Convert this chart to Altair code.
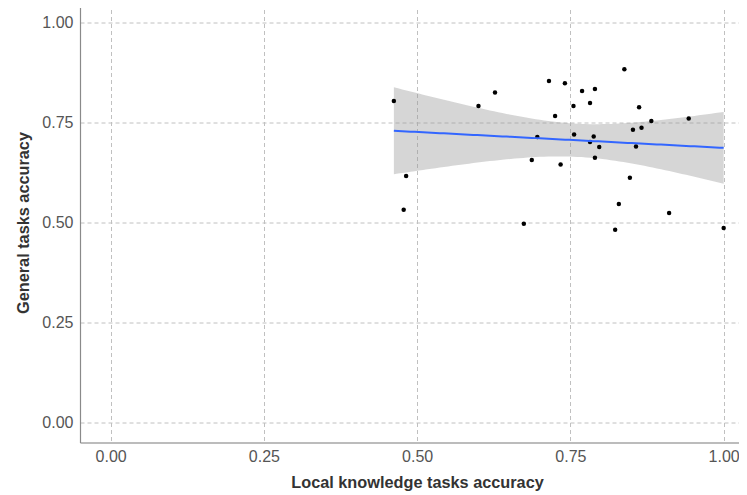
import altair as alt
import numpy as np
import pandas as pd

local_acc = [0.462, 0.482, 0.478, 0.600, 0.627, 0.715, 0.741, 0.725, 0.696, 0.687,
             0.734, 0.674, 0.755, 0.756, 0.769, 0.790, 0.782, 0.782, 0.788, 0.790,
             0.797, 0.838, 0.862, 0.882, 0.852, 0.866, 0.857, 0.847, 0.829, 0.823,
             0.911, 0.943, 1.000]
general_acc = [0.804, 0.616, 0.532, 0.791, 0.825, 0.854, 0.848, 0.766, 0.714, 0.656,
               0.645, 0.497, 0.791, 0.720, 0.829, 0.834, 0.799, 0.701, 0.715, 0.662,
               0.689, 0.883, 0.788, 0.754, 0.732, 0.737, 0.690, 0.612, 0.546, 0.482,
               0.524, 0.760, 0.486]
tick_vals = [0.0, 0.25, 0.5, 0.75, 1.0]

df = pd.DataFrame({"x": local_acc, "y": general_acc})

# linear model with 95% confidence band (as geom_smooth(method="lm"))
x = np.array(local_acc)
y = np.array(general_acc)
n = len(x)
b1, b0 = np.polyfit(x, y, 1)
resid = y - (b0 + b1 * x)
s = np.sqrt(np.sum(resid ** 2) / (n - 2))
t_crit = 2.0395  # t(0.975, df=31)
xs = np.linspace(x.min(), x.max(), 80)
fit = b0 + b1 * xs
se = s * np.sqrt(1.0 / n + (xs - x.mean()) ** 2 / np.sum((x - x.mean()) ** 2))
band = pd.DataFrame({"x": xs, "fit": fit, "lo": fit - t_crit * se, "hi": fit + t_crit * se})

FONT = "Liberation Sans"
xscale = alt.Scale(domain=[-0.05, 1.025], nice=False, zero=False)
yscale = alt.Scale(domain=[-0.05, 1.05], nice=False, zero=False)

xaxis = alt.Axis(title="Local knowledge tasks accuracy", values=tick_vals, format=".2f",
                 grid=True, gridDash=[4, 3], gridColor="#c0c0c0", gridWidth=1,
                 domain=True, domainColor="#8a8a8a", domainWidth=1.2, ticks=False,
                 labelColor="#555555", labelFontSize=16, labelFont=FONT, labelPadding=6,
                 titleFont=FONT, titleFontSize=16.3, titleFontWeight="bold",
                 titleColor="#333333", titlePadding=10, labelFlush=False,
                 titleX=337, titleAlign="center")
yaxis = alt.Axis(title="General tasks accuracy", values=tick_vals, format=".2f",
                 grid=True, gridDash=[4, 3], gridColor="#c0c0c0", gridWidth=1,
                 domain=True, domainColor="#8a8a8a", domainWidth=1.2, ticks=False,
                 labelColor="#555555", labelFontSize=16, labelFont=FONT, labelPadding=7,
                 titleFont=FONT, titleFontSize=16.3, titleFontWeight="bold",
                 titleColor="#333333", titlePadding=10, labelFlush=False)

area = alt.Chart(band).mark_area(color="#999999", opacity=0.4).encode(
    x=alt.X("x:Q", scale=xscale, axis=xaxis),
    y=alt.Y("lo:Q", scale=yscale, axis=yaxis),
    y2="hi:Q",
)
points = alt.Chart(df).mark_circle(color="black", opacity=1, size=20).encode(
    x=alt.X("x:Q", scale=xscale),
    y=alt.Y("y:Q", scale=yscale),
)
line = alt.Chart(band).mark_line(color="#3366FF", strokeWidth=2).encode(
    x=alt.X("x:Q", scale=xscale),
    y=alt.Y("fit:Q", scale=yscale),
)

chart = alt.layer(area, points, line).properties(
    width=659, height=440,
    autosize=alt.AutoSizeParams(type="none"),
    padding={"left": 72, "top": -5.5, "right": 0, "bottom": 52},
).configure_view(stroke=None).configure(background="white")

chart.save("out.html", embed_options={"renderer": "svg", "actions": False})
